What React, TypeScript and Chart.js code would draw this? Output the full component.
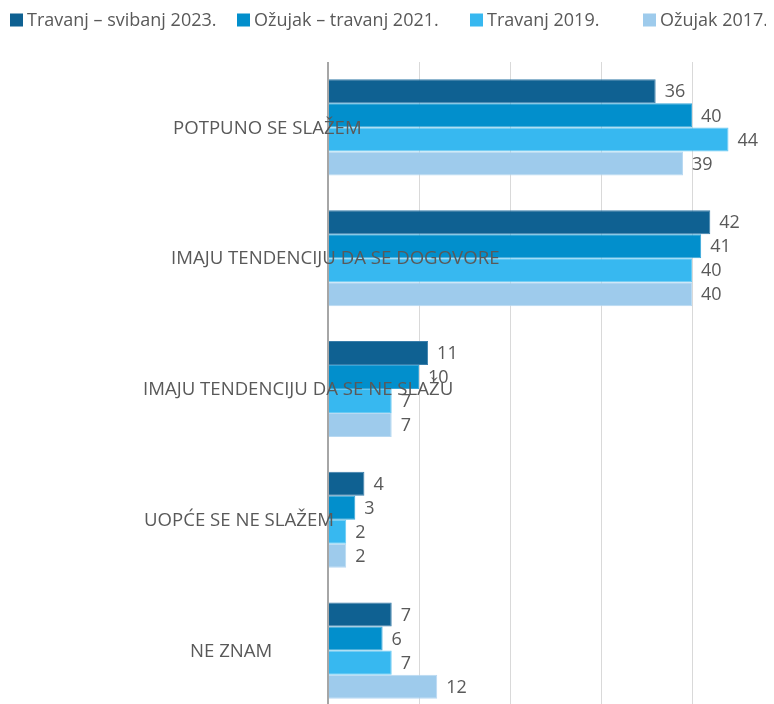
import React, { useEffect, useRef } from 'react';
import { Chart, registerables } from 'chart.js';

Chart.register(...registerables);

const categories = [
  'POTPUNO SE SLAŽEM',
  'IMAJU TENDENCIJU DA SE DOGOVORE',
  'IMAJU TENDENCIJU DA SE NE SLAŽU',
  'UOPĆE SE NE SLAŽEM',
  'NE ZNAM',
];
const seriesNames = ['Travanj – svibanj 2023.', 'Ožujak – travanj 2021.', 'Travanj 2019.', 'Ožujak 2017.'];
const values2023 = [36, 42, 11, 4, 7];
const values2021 = [40, 41, 10, 3, 6];
const values2019 = [44, 40, 7, 2, 7];
const values2017 = [39, 40, 7, 2, 12];
const gridTicks = [0, 10, 20, 30, 40];

// styles / layout
const seriesColors = ['#0f6192', '#028fcc', '#37b8f0', '#9ecbec'];
const seriesBorders = ['#3a7eaa', '#37a6d9', '#68caf4', '#b8d9f2'];
const TEXT_COLOR = '#595959';
const FONT_FAMILY = '"Open Sans", "Noto Sans", sans-serif';
const LEGEND_FONT_SIZE = 18;
const VALUE_FONT_SIZE = 18;
const CATEGORY_FONT_SIZE = 18.6;
const CANVAS_W = 766;
const CANVAS_H = 708;
const AXIS_LEFT = 320;
const PLOT_TOP = 54;
const labelOffsets = [-155, -157, -185, -184, -138];
const legendItemX = [2, 229, 462, 635];
const LEGEND_Y = 12;
const LEGEND_BOX = 13;
const LEGEND_BOX_GAP = 4;

const font = (size: number) => `${size}px ${FONT_FAMILY}`;

const legendPlugin = {
  id: 'customLegend',
  afterDraw(chart: any) {
    const ctx = chart.ctx;
    ctx.save();
    ctx.font = font(LEGEND_FONT_SIZE);
    ctx.textBaseline = 'middle';
    ctx.textAlign = 'left';
    chart.data.datasets.forEach((d: any, i: number) => {
      const x = legendItemX[i];
      ctx.fillStyle = d.backgroundColor;
      ctx.fillRect(x, LEGEND_Y - LEGEND_BOX / 2, LEGEND_BOX, LEGEND_BOX);
      ctx.fillStyle = TEXT_COLOR;
      ctx.fillText(d.label, x + LEGEND_BOX + LEGEND_BOX_GAP, LEGEND_Y + 1);
    });
    ctx.restore();
  },
};

const labelsPlugin = {
  id: 'labelsPlugin',
  afterDatasetsDraw(chart: any) {
    const ctx = chart.ctx;
    const yScale = chart.scales.y;
    ctx.save();
    ctx.fillStyle = TEXT_COLOR;
    ctx.textBaseline = 'middle';
    ctx.textAlign = 'left';
    // value labels
    ctx.font = font(VALUE_FONT_SIZE);
    chart.data.datasets.forEach((ds: any, di: number) => {
      const meta = chart.getDatasetMeta(di);
      meta.data.forEach((bar: any, i: number) => {
        ctx.fillText(String(ds.data[i]), bar.x + 9, bar.y + 1);
      });
    });
    // category labels (drawn over bars)
    ctx.font = font(CATEGORY_FONT_SIZE);
    chart.data.labels.forEach((lab: string, i: number) => {
      const y = yScale.getPixelForValue(i);
      ctx.fillText(lab, chart.chartArea.left + labelOffsets[i], y + 1);
    });
    ctx.restore();
  },
};

export default function App() {
  const ref = useRef<HTMLCanvasElement>(null);
  useEffect(() => {
    document.body.style.overflow = 'hidden';
    const allValues = [values2023, values2021, values2019, values2017];
    const chart = new Chart(ref.current as HTMLCanvasElement, {
      type: 'bar',
      data: {
        labels: categories,
        datasets: allValues.map((vals, i) => ({
          label: seriesNames[i],
          data: vals,
          backgroundColor: seriesColors[i],
          borderColor: seriesBorders[i],
          borderWidth: 1,
          borderSkipped: 'start',
          categoryPercentage: 0.735,
          barPercentage: 1,
        })),
      },
      options: {
        indexAxis: 'y',
        responsive: false,
        animation: false,
        devicePixelRatio: 1,
        layout: { padding: { top: PLOT_TOP, left: 0, right: 0, bottom: 0 } },
        plugins: {
          legend: { display: false },
          tooltip: { enabled: false },
        },
        scales: {
          x: {
            min: 0,
            max: 49,
            position: 'bottom',
            ticks: { display: false, stepSize: 10 },
            afterBuildTicks: (s: any) => {
              s.ticks = gridTicks.map((v) => ({ value: v }));
            },
            border: { display: false },
            grid: {
              drawTicks: false,
              color: (c: any) => (c.tick && c.tick.value === 0 ? '#a6a6a6' : '#d9d9d9'),
              lineWidth: (c: any) => (c.tick && c.tick.value === 0 ? 2 : 1),
            },
          },
          y: {
            type: 'category',
            ticks: { display: false },
            grid: { display: false },
            border: { display: false },
            afterFit: (s: any) => {
              s.width = AXIS_LEFT;
            },
          },
        },
      },
      plugins: [legendPlugin, labelsPlugin],
    } as any);
    return () => chart.destroy();
  }, []);
  return (
    <div style={{ width: CANVAS_W, height: 696, overflow: 'hidden' }}>
      <canvas ref={ref} width={CANVAS_W} height={CANVAS_H} style={{ display: 'block' }} />
    </div>
  );
}
